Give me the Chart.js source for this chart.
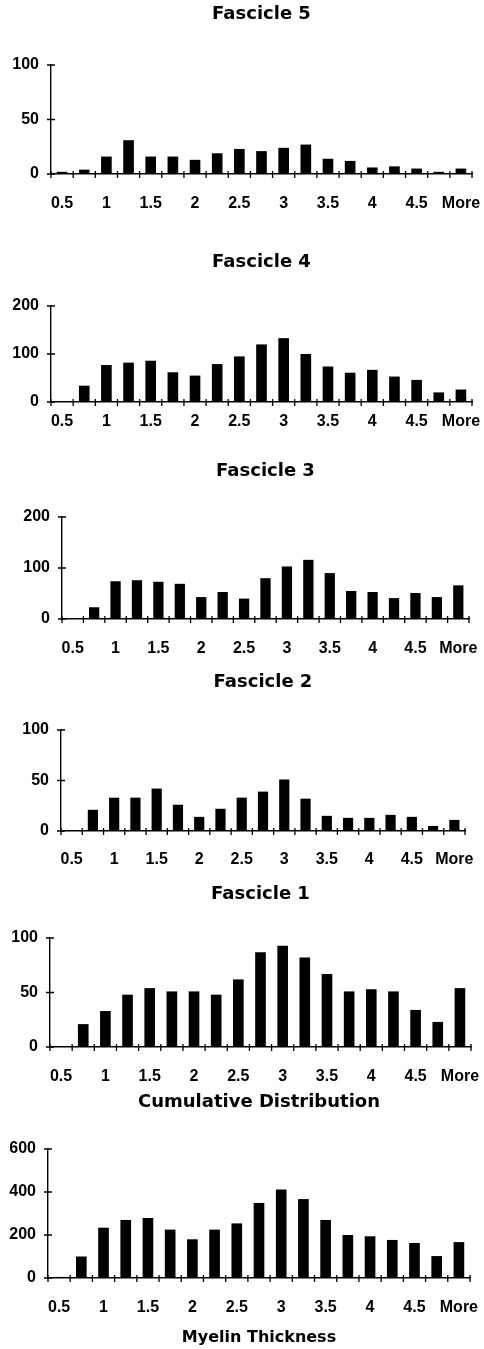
<!DOCTYPE html>
<html>
<head>
<meta charset="utf-8">
<script src="https://cdn.jsdelivr.net/npm/chart.js@4"></script>
<style>
  html, body { margin: 0; padding: 0; background: #fff; overflow: hidden; }
  #wrap { position: relative; width: 484px; height: 1349px; }
  canvas { position: absolute; left: 0; }
</style>
</head>
<body>
<div id="wrap"></div>
<script>
// ---- data ----
const bins = ['0.5','0.75','1','1.25','1.5','1.75','2','2.25','2.5','2.75','3','3.25','3.5','3.75','4','4.25','4.5','4.75','More'];
const tickLabels = ['0.5','','1','','1.5','','2','','2.5','','3','','3.5','','4','','4.5','','More'];
const fascicle5 = [2, 4, 16, 31, 16, 16, 13, 19, 23, 21, 24, 27, 14, 12, 6, 7, 5, 2, 5];
const fascicle4 = [0, 34, 77, 82, 86, 62, 55, 79, 95, 120, 133, 100, 74, 61, 67, 53, 46, 20, 26];
const fascicle3 = [2, 23, 74, 76, 73, 69, 43, 53, 40, 80, 103, 116, 90, 55, 53, 41, 51, 43, 66];
const fascicle2 = [0, 21, 33, 33, 42, 26, 14, 22, 33, 39, 51, 32, 15, 13, 13, 16, 14, 5, 11];
const fascicle1 = [0, 21, 33, 48, 54, 51, 51, 48, 62, 87, 93, 82, 67, 51, 53, 51, 34, 23, 54];
const cumulative = [5, 100, 234, 270, 279, 225, 180, 225, 254, 349, 412, 367, 270, 200, 194, 177, 163, 102, 167];
const titles = ['Fascicle 5','Fascicle 4','Fascicle 3','Fascicle 2','Fascicle 1','Cumulative Distribution'];
const seriesList = [fascicle5, fascicle4, fascicle3, fascicle2, fascicle1, cumulative];
const yMax = [100, 200, 200, 100, 100, 600];
const yStep = [50, 100, 100, 50, 50, 200];
const xAxisTitle = 'Myelin Thickness';

// ---- layout (pixel geometry) ----
const panels = [
  {titleY: 15,   top: 65,   bottom: 174,  left: 51, right: 472, gap: 28},
  {titleY: 263,  top: 306,  bottom: 402,  left: 51, right: 472, gap: 18},
  {titleY: 472,  top: 517,  bottom: 619,  left: 62, right: 469, gap: 28},
  {titleY: 683,  top: 730,  bottom: 831,  left: 61, right: 465, gap: 27},
  {titleY: 895,  top: 938,  bottom: 1047, left: 50, right: 471, gap: 28},
  {titleY: 1103, top: 1149, bottom: 1278, left: 48, right: 470, gap: 28, canvasBottom: 1349}
];

const FONT = "'Liberation Sans', Arial, Helvetica, sans-serif";
const TITLE_FONT = "'DejaVu Sans', Verdana, sans-serif";

const crossTicks = {
  id: 'crossTicks',
  afterDraw(chart) {
    const ctx = chart.ctx;
    const xs = chart.scales.x, ys = chart.scales.y;
    const n = chart.data.labels.length;
    const half = (xs.getPixelForValue(1) - xs.getPixelForValue(0)) / 2;
    const axisY = ys.getPixelForValue(0);
    const axisX = chart.chartArea.left;
    ctx.save();
    ctx.strokeStyle = '#000';
    ctx.lineWidth = 1.3;
    ctx.beginPath();
    for (let i = 0; i <= n; i++) {
      const x = (i < n ? xs.getPixelForValue(i) - half : xs.getPixelForValue(n - 1) + half);
      ctx.moveTo(x, axisY - 3);
      ctx.lineTo(x, axisY + 4);
    }
    ys.ticks.forEach(t => {
      const y = ys.getPixelForValue(t.value);
      ctx.moveTo(axisX - 4, y);
      ctx.lineTo(axisX + 4, y);
    });
    ctx.stroke();
    ctx.restore();
  }
};

const wrap = document.getElementById('wrap');
panels.forEach((p, k) => {
  const canvasTop = p.titleY - 11;
  const titleLH = 18 * 1.2;
  const titleBottomPad = p.top - canvasTop - titleLH;
  const canvasBottom = p.canvasBottom || (p.bottom + p.gap + 12);
  const height = canvasBottom - canvasTop;
  const xH = canvasBottom - p.bottom;
  const yW = 46;
  const cv = document.createElement('canvas');
  cv.width = 484; cv.height = height;
  cv.style.top = canvasTop + 'px';
  cv.style.width = '484px'; cv.style.height = height + 'px';
  wrap.appendChild(cv);
  const isLast = k === panels.length - 1;
  new Chart(cv.getContext('2d'), {
    type: 'bar',
    data: {
      labels: bins,
      datasets: [{
        data: seriesList[k],
        backgroundColor: '#000',
        borderWidth: 0,
        barPercentage: 0.48,
        categoryPercentage: 1.0
      }]
    },
    options: {
      responsive: false,
      animation: false,
      devicePixelRatio: 1,
      layout: { padding: { left: p.left - yW, right: 484 - p.right, top: 0, bottom: 0 } },
      plugins: {
        legend: { display: false },
        tooltip: { enabled: false },
        title: {
          display: true,
          text: titles[k],
          color: '#000',
          fullSize: false,
          font: { family: TITLE_FONT, size: 18, weight: 'bold', lineHeight: 1.2 },
          padding: { top: 0, bottom: titleBottomPad }
        }
      },
      scales: {
        x: {
          type: 'category',
          offset: true,
          grid: { display: false, drawTicks: false },
          border: { display: true, color: '#000', width: 1.4 },
          ticks: {
            autoSkip: false, maxRotation: 0, minRotation: 0,
            color: '#000',
            font: { family: FONT, size: 16, weight: 'bold', lineHeight: 1.2 },
            padding: p.gap - 8,
            callback: (v, i) => tickLabels[i]
          },
          title: {
            display: isLast,
            text: xAxisTitle,
            color: '#000',
            font: { family: TITLE_FONT, size: 16, weight: 'bold', lineHeight: 1.2 },
            padding: { top: 0, bottom: 1.4 }
          },
          afterFit: s => { s.height = xH; s.paddingLeft = 0; s.paddingRight = 0; }
        },
        y: {
          min: 0, max: yMax[k],
          grid: { display: false, drawTicks: false },
          border: { display: true, color: '#000', width: 1.4 },
          ticks: {
            stepSize: yStep[k],
            color: '#000',
            font: { family: FONT, size: 16, weight: 'bold', lineHeight: 1.2 },
            padding: 12
          },
          afterFit: s => { s.width = yW; }
        }
      }
    },
    plugins: [crossTicks]
  });
});
</script>
</body>
</html>
